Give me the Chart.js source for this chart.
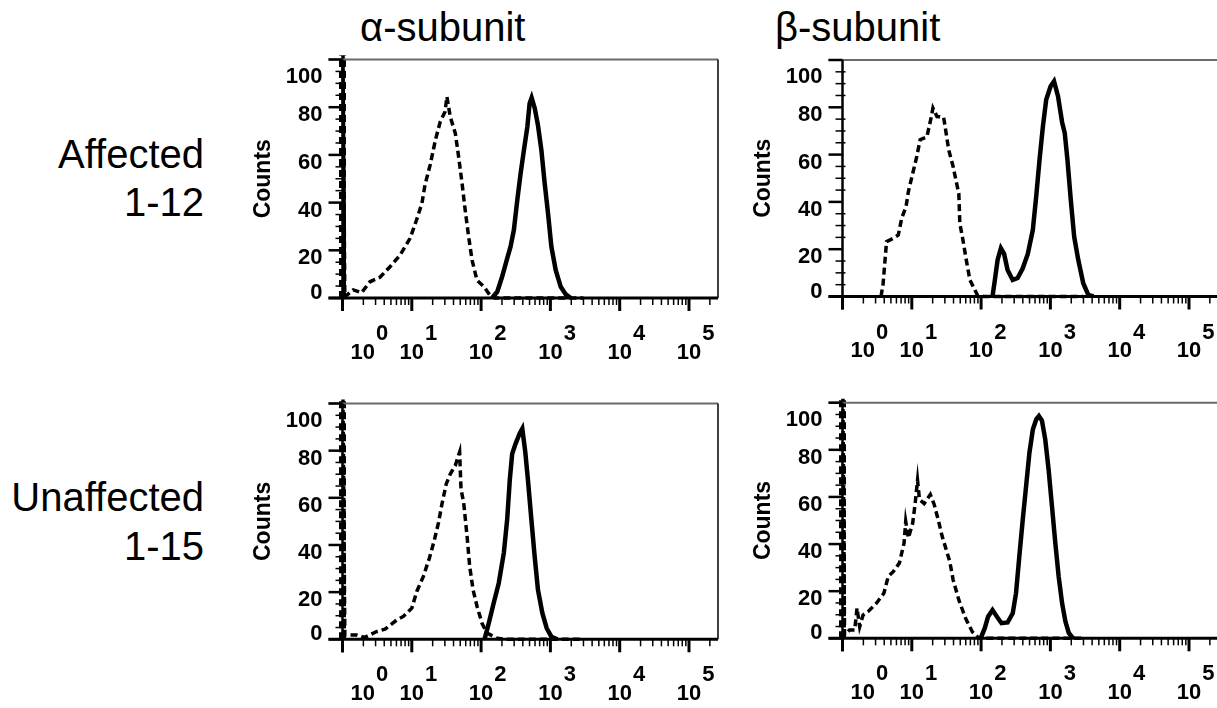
<!DOCTYPE html>
<html lang="en">
<head>
  <meta charset="UTF-8" />
  <title>alpha / beta subunit flow histograms</title>
  <script src="https://cdn.jsdelivr.net/npm/chart.js"></script>
  <style>
    html, body { margin: 0; padding: 0; background: #fff; overflow: hidden; }
    body { width: 1217px; height: 708px; position: relative; font-family: "Liberation Sans", Arial, sans-serif; }
    .panel { position: absolute; width: 500px; height: 340px; }
    .title { position: absolute; font-size: 40px; line-height: 40px; white-space: nowrap; }
    .row { position: absolute; left: 0; width: 204px; text-align: right; font-size: 40px; }
  </style>
</head>
<body>
  <div class="title" style="left:360px; top:7px;">α-subunit</div>
  <div class="title" style="left:775px; top:7px;">β-subunit</div>
  <div class="row" style="top:130px; line-height:48px;">Affected<br>1-12</div>
  <div class="row" style="top:473px; line-height:49px;">Unaffected<br>1-15</div>

  <canvas id="tl" class="panel" width="500" height="340" style="left:230px; top:40px;"></canvas>
  <canvas id="tr" class="panel" width="500" height="340" style="left:730px; top:40px;"></canvas>
  <canvas id="bl" class="panel" width="500" height="340" style="left:230px; top:384px;"></canvas>
  <canvas id="br" class="panel" width="500" height="340" style="left:730px; top:383px;"></canvas>

  <script>
    // axis values
    const yTicks = [0, 20, 40, 60, 80, 100];
    const xDecades = [1, 10, 100, 1000, 10000, 100000];
    const xExponents = ['0', '1', '2', '3', '4', '5'];
    const xMax = 262144;

    // [fluorescence, counts]
    // dashed = control, solid = stained
    const tlControl = [[1,0],[1,130],[1.08,0.5],[1.43,3.4],[1.88,2.2],[2.49,6.8],[3.47,8.7],[4.85,13.1],[6.76,18],[9.44,25],[11.7,32.7],[14.0,39.7],[15.5,47.4],[18.4,55.8],[21.9,66.2],[25.7,73.9],[30.2,78.1],[32.1,84.4],[35.9,76],[42.5,69],[47.4,59.2],[53.1,48.1],[58.9,36.9],[66.1,25.7],[74.1,15.9],[87.1,7.5],[110,4.7],[135,1],[158,0],[3000,0]];
    const tlStained = [[144,0],[171,2.6],[201,8.9],[238,16.6],[266,21.5],[297,28.5],[333,41.1],[372,52.3],[415,62],[465,71.8],[501,81.6],[536,84],[593,79.7],[661,72.5],[741,62],[826,48.2],[923,35.6],[1033,21.5],[1194,11.7],[1409,4.7],[1667,1.5],[1968,0]];

    const trControl = [[3.6,0],[3.86,5.6],[4.32,23.2],[5.4,24.6],[6.38,26],[7.15,33.1],[8.26,38],[8.93,44.4],[11.8,59.2],[13.2,66.3],[16.5,67.5],[18.5,74],[20.2,79.7],[23.1,76.1],[28.8,75.8],[34.1,62],[39.4,55],[44.2,48],[47.7,43.5],[49.3,31],[54.6,24],[61.1,15.5],[68.9,7],[88.3,0.6],[110,0],[3000,0]];
    const trStained = [[146,0],[158,7],[173,15.5],[193,20.4],[215,18],[241,11.2],[286,7],[337,7.8],[399,11.9],[472,18],[558,28.2],[624,42.3],[697,57.8],[780,72],[871,83.3],[1007,88.9],[1128,91],[1288,84.7],[1475,73.7],[1611,69.1],[1762,57.8],[1968,40.9],[2203,25.3],[2523,15.5],[2979,5.6],[3524,0.7],[4169,0]];

    const blControl = [[1,0],[1,130],[1.08,1.8],[1.6,1.8],[2.1,0.8],[3.11,3.3],[4.1,4.3],[6.07,8.2],[7.55,9.7],[10,13.2],[11.8,20.3],[14.7,26.7],[18,34.6],[21,41.7],[24.3,49.5],[27.2,57.3],[31.4,65.9],[35.9,70.1],[42.4,73.7],[49,79.4],[51.3,63.7],[56,58],[62.7,43.8],[68.4,31],[76.6,21],[87.5,13.9],[103,6.8],[122,2.6],[171,0.4],[238,0],[3000,0]];
    const blStained = [[112,0],[129,6.8],[152,15.4],[180,23.9],[213,36.7],[238,50.9],[260,68],[281,78.7],[314,82.9],[359,87.2],[393,89.3],[434,79.4],[473,68],[531,50.9],[592,35.3],[661,21],[766,11.1],[884,4.7],[1033,1.1],[1262,0]];

    const brControl = [[1,0],[1,130],[1.07,1.4],[1.26,3.5],[1.5,3.5],[1.62,12.8],[1.77,4.9],[1.98,9.9],[2.33,11.3],[3.09,14.9],[3.95,19.1],[4.57,26.2],[5.4,28.3],[6.61,31.9],[7.73,40.4],[8.17,49.6],[8.93,42.6],[10.3,48.9],[11.2,57.4],[12.1,67.1],[12.9,58.9],[15.1,57.2],[18.5,61],[21.1,56.7],[24.4,49.6],[27.3,43.5],[35.3,32.6],[39.5,24.8],[47.7,16.3],[59.7,8.5],[74.6,2.8],[93.3,0],[3000,0]];
    const brStained = [[98.6,0],[113,4.3],[126,9.2],[146,12],[169,9.2],[197,6.4],[241,6.7],[286,10.6],[319,19.1],[356,34.7],[399,50.3],[446,64.5],[498,78.7],[558,88.6],[624,92.9],[683,94.3],[755,92.4],[843,84.4],[942,71.6],[1054,56],[1178,40.4],[1316,26.2],[1475,14.9],[1648,7.1],[1841,2.3],[2133,0]];

    const TICK_FONT = 'bold 22px "Liberation Sans", Arial, sans-serif';

    function seg(ctx, x1, y1, x2, y2) {
      ctx.beginPath();
      ctx.moveTo(x1, y1);
      ctx.lineTo(x2, y2);
      ctx.stroke();
    }

    // frame, ticks and labels drawn by hand so they look like the cytometer export
    const frame = {
      id: 'frame',
      afterDraw(chart) {
        const { ctx, chartArea: a, scales: { x, y } } = chart;
        ctx.save();
        ctx.lineCap = 'butt';

        // top and right border
        ctx.strokeStyle = '#6a6a6a';
        ctx.lineWidth = 2;
        seg(ctx, a.left - 14, a.top, a.right, a.top);
        ctx.strokeStyle = '#000';
        ctx.lineWidth = 1.5;
        seg(ctx, a.right, a.top, a.right, a.bottom);

        // y axis
        ctx.lineWidth = 2.5;
        seg(ctx, a.left, a.top, a.left, a.bottom + 13);
        ctx.lineWidth = 1.5;
        for (let v = 5; v < 100; v += 5) {
          if (v % 20 === 0) continue;
          const py = y.getPixelForValue(v);
          seg(ctx, a.left - 7, py, a.left + 3, py);
        }
        ctx.lineWidth = 2.5;
        yTicks.forEach(v => {
          const py = y.getPixelForValue(v);
          seg(ctx, a.left - 14, py, a.left, py);
        });

        // x axis
        ctx.lineWidth = 3;
        seg(ctx, a.left - 14, a.bottom, a.right, a.bottom);
        ctx.lineWidth = 1.5;
        xDecades.forEach(d => {
          for (let m = 2; m <= 9; m++) {
            const v = m * d;
            if (v > xMax) break;
            const px = x.getPixelForValue(v);
            seg(ctx, px, a.bottom, px, a.bottom + 7);
          }
        });
        ctx.lineWidth = 3;
        xDecades.forEach(d => {
          const px = x.getPixelForValue(d);
          seg(ctx, px, a.bottom, px, a.bottom + 13);
        });

        // tick labels
        ctx.fillStyle = '#000';
        ctx.font = TICK_FONT;
        ctx.textBaseline = 'middle';
        ctx.textAlign = 'right';
        yTicks.forEach(v => {
          const py = y.getPixelForValue(v);
          const ly = Math.min(Math.max(py + 8, a.top + 17), a.bottom - 5);
          ctx.fillText(String(v), a.left - 20, ly);
        });
        ctx.textAlign = 'left';
        const baseW = ctx.measureText('10').width;
        xDecades.forEach((d, i) => {
          const px = x.getPixelForValue(d);
          const lx = Math.max(px - baseW / 2, a.left + 8);
          ctx.fillText('10', lx, a.bottom + 54.5);
          ctx.fillText(xExponents[i], lx + baseW + 1, a.bottom + 36);
        });

        // axis title
        ctx.font = 'bold 23px "Liberation Sans", Arial, sans-serif';
        ctx.textAlign = 'center';
        ctx.translate(a.left - 79, (a.top + a.bottom) / 2);
        ctx.rotate(-Math.PI / 2);
        ctx.fillText('Counts', 0, 0);
        ctx.restore();
      }
    };

    function toPoints(pairs) {
      return pairs.map(p => ({ x: p[0], y: p[1] }));
    }

    function makePanel(id, control, stained, padTop, padBottom) {
      new Chart(document.getElementById(id), {
        type: 'line',
        data: {
          datasets: [
            {
              label: 'control', data: toPoints(control), borderColor: '#000', borderWidth: 3.5, borderDash: [7, 4],
              pointRadius: 0, tension: 0, clip: 4,
              // the off-scale first bin sits on the y axis: draw it heavier so it shows beside the axis line
              segment: { borderWidth: c => (c.p0.parsed.x === c.p1.parsed.x ? 7 : undefined) }
            },
            { label: 'stained', data: toPoints(stained), borderColor: '#000', borderWidth: 4.5, pointRadius: 0, tension: 0 }
          ]
        },
        options: {
          responsive: false,
          animation: false,
          layout: { padding: { left: 112.5, right: 12, top: padTop, bottom: padBottom } },
          plugins: { legend: { display: false }, tooltip: { enabled: false } },
          scales: {
            x: { type: 'logarithmic', min: 1, max: xMax, display: false },
            y: { type: 'linear', min: 0, max: 100, display: false }
          }
        },
        plugins: [frame]
      });
    }

    makePanel('tl', tlControl, tlStained, 19.5, 82);
    makePanel('tr', trControl, trStained, 20, 83.5);
    makePanel('bl', blControl, blStained, 19.5, 84.7);
    makePanel('br', brControl, brStained, 19.7, 84.7);
  </script>
</body>
</html>
